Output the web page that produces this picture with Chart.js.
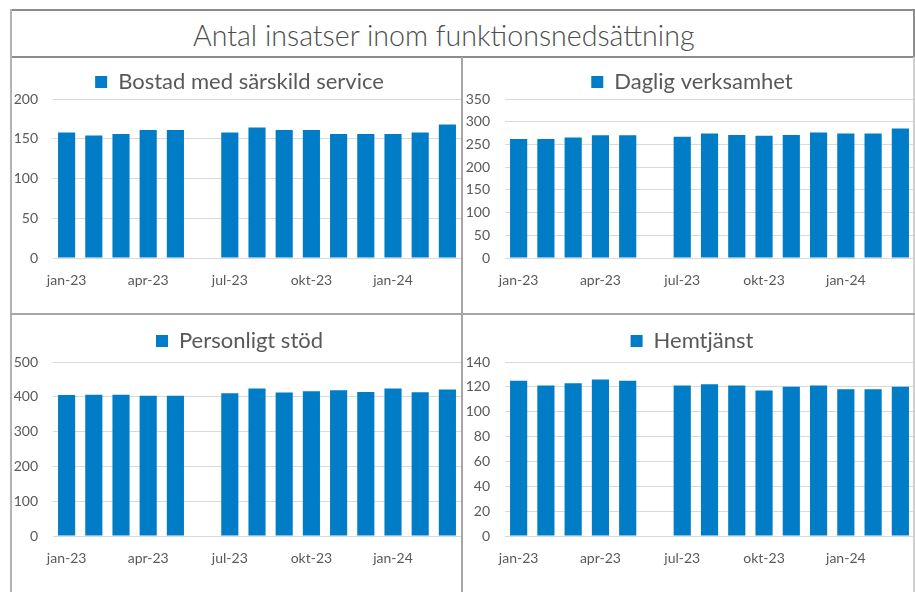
<!DOCTYPE html>
<html>
<head>
<meta charset="utf-8">
<script src="https://cdn.jsdelivr.net/npm/chart.js@4/dist/chart.umd.min.js"></script>
<style>
  html, body { margin: 0; padding: 0; background: #fff; }
  #wrap { position: relative; width: 915px; height: 592px; overflow: hidden; background: #fff; }
  .line { position: absolute; background: #a6a6a6; }
  .cv { position: absolute; }
  #title { position: absolute; left: 193px; top: 9px; height: 48px; line-height: 52px; white-space: nowrap;
           font-family: Lato, sans-serif; font-weight: 300; font-size: 28.6px; color: #4d4d4d; }
</style>
</head>
<body>
<div id="wrap">
  <div id="title">Antal insatser inom funktionsnedsättning</div>
  <canvas id="c1" class="cv" width="462" height="257" style="left:0;top:57px;"></canvas>
  <canvas id="c2" class="cv" width="453" height="257" style="left:462px;top:57px;"></canvas>
  <canvas id="c3" class="cv" width="462" height="278" style="left:0;top:314px;"></canvas>
  <canvas id="c4" class="cv" width="453" height="278" style="left:462px;top:314px;"></canvas>
  <!-- frame lines -->
  <div class="line" style="left:10px;top:9px;width:905px;height:2px;background:#8c8c8c;"></div>
  <div class="line" style="left:10px;top:56px;width:905px;height:2px;background:#8c8c8c;"></div>
  <div class="line" style="left:10px;top:9px;width:2px;height:583px;background:#b3b3b3;"></div>
  <div class="line" style="left:913px;top:9px;width:2px;height:48px;background:#8c8c8c;"></div>
  <div class="line" style="left:913px;top:57px;width:2px;height:535px;background:#cfcfcf;"></div>
  <div class="line" style="left:461px;top:57px;width:2px;height:535px;"></div>
  <div class="line" style="left:10px;top:313px;width:905px;height:2px;"></div>
</div>
<script>
const months = ['jan-23','feb-23','mar-23','apr-23','maj-23','jun-23','jul-23','aug-23','sep-23','okt-23','nov-23','dec-23','jan-24','feb-24','mar-24'];
const bostad = [158, 154, 156, 161, 161, null, 158, 164, 161, 161, 156, 156, 156, 158, 168];
const daglig = [262, 262, 265, 270, 270, null, 267, 274, 271, 269, 271, 276, 274, 274, 285];
const personligt = [405, 406, 406, 403, 403, null, 410, 424, 412, 416, 419, 414, 424, 413, 421];
const hemtjanst = [125, 121, 123, 126, 125, null, 121, 122, 121, 117, 120, 121, 118, 118, 120];

const TEXT = '#595959';
const BAR = '#007DC6';
Chart.defaults.font.family = 'Lato, Calibri, sans-serif';
Chart.defaults.color = TEXT;

// shifts the legend box horizontally (legend is centred on the panel, not the canvas)
const legendOffset = {
  id: 'legendOffset',
  afterLayout(chart, args, opts) {
    const l = chart.legend;
    if (l && opts.dx) { l.left += opts.dx; l.right += opts.dx; }
  }
};

function makeChart(id, label, data, yMax, yStep, cfg) {
  new Chart(document.getElementById(id), {
    type: 'bar',
    data: {
      labels: months,
      datasets: [{
        label: label,
        data: data,
        backgroundColor: BAR,
        borderWidth: 0,
        barPercentage: 0.63,
        categoryPercentage: 1.0
      }]
    },
    plugins: [legendOffset],
    options: {
      responsive: false,
      animation: false,
      layout: { padding: { top: cfg.padTop, right: 1, bottom: 0, left: 0 } },
      plugins: {
        legendOffset: { dx: cfg.legDx },
        legend: {
          position: 'top',
          maxHeight: cfg.legH,
          labels: {
            boxWidth: 12, boxHeight: 12, padding: cfg.legPad,
            font: { size: 22 }, color: TEXT
          }
        },
        tooltip: { enabled: false }
      },
      scales: {
        x: {
          grid: { display: false },
          border: { display: false },
          ticks: {
            autoSkip: false, maxRotation: 0, minRotation: 0,
            padding: 6, font: { size: 14 }, color: TEXT,
            callback: function(v, i) { return i % 3 === 0 ? months[i] : ''; }
          },
          afterFit: function(s) { s.height = cfg.xH; }
        },
        y: {
          min: 0, max: yMax,
          grid: { color: '#d9d9d9', drawTicks: false, lineWidth: 1 },
          border: { display: false },
          ticks: { stepSize: yStep, padding: 15, font: { size: 14 }, color: TEXT },
          afterFit: function(s) { s.width = cfg.yW; }
        }
      }
    }
  });
}

makeChart('c1', 'Bostad med särskild service', bostad, 200, 50, { padTop: 8, legDx: 9, legPad: 6, legH: 34, xH: 56, yW: 53 });
makeChart('c2', 'Daglig verksamhet', daglig, 350, 50, { padTop: 8, legDx: 4, legPad: 6, legH: 34, xH: 56, yW: 43 });
makeChart('c3', 'Personligt stöd', personligt, 500, 100, { padTop: 6, legDx: 9, legPad: 10, legH: 42, xH: 56, yW: 53 });
makeChart('c4', 'Hemtjänst', hemtjanst, 140, 20, { padTop: 6, legDx: 4, legPad: 10, legH: 42, xH: 56, yW: 43 });
</script>
</body>
</html>
